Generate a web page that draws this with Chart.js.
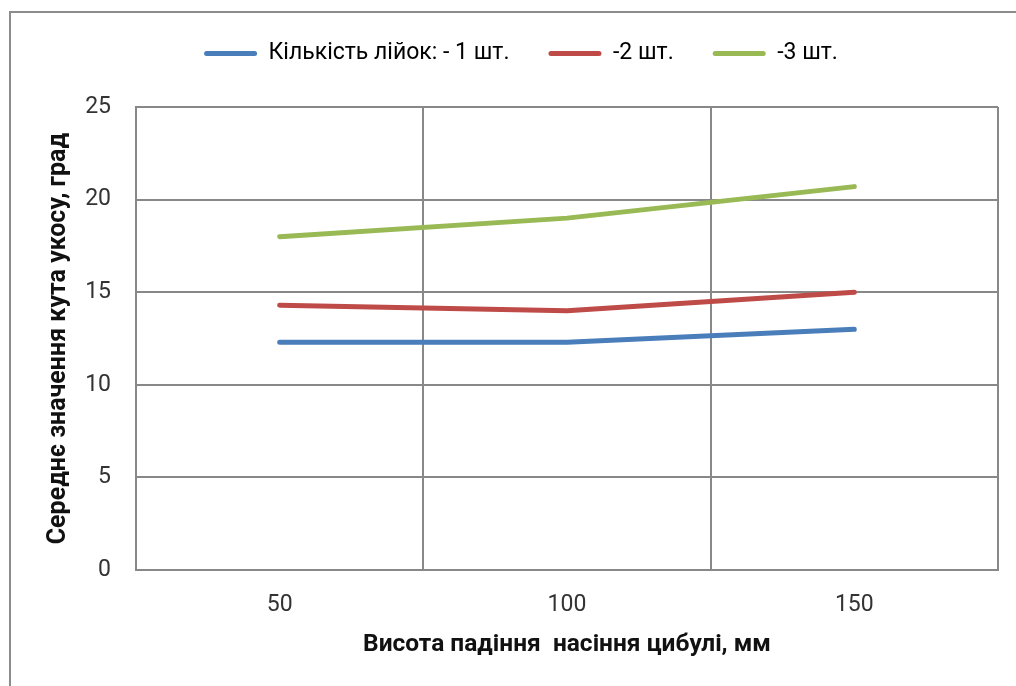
<!DOCTYPE html>
<html>
<head>
<meta charset="utf-8">
<script src="https://cdn.jsdelivr.net/npm/chart.js@4/dist/chart.umd.min.js"></script>
<style>
  html, body { margin: 0; padding: 0; background: #fff; }
  #wrap { width: 1016px; height: 686px; }
</style>
</head>
<body>
<div id="wrap"><canvas id="chart" width="1016" height="686"></canvas></div>
<script>
// Drop height of onion seed, mm
const heights = ['50', '100', '150'];
// Mean skew angle, degrees, for 1, 2 and 3 funnels
const oneFunnel = [12.3, 12.3, 13.0];
const twoFunnels = [14.3, 14.0, 15.0];
const threeFunnels = [18.0, 19.0, 20.7];
const seriesNames = ['Кількість лійок: - 1 шт.', '-2 шт.', '-3 шт.'];
const seriesColors = ['#4a7ebb', '#be4b48', '#98b954'];
const yMin = 0, yMax = 25, yStep = 5;

const FONT = 'Roboto, "Liberation Sans", sans-serif';
const GRID = '#888888';

// Outer frame of the chart object
const framePlugin = {
  id: 'frame',
  beforeDraw(chart) {
    const ctx = chart.ctx;
    ctx.save();
    ctx.fillStyle = '#ffffff';
    ctx.fillRect(0, 0, chart.width, chart.height);
    ctx.strokeStyle = '#8c8c8c';
    ctx.lineWidth = 2;
    ctx.strokeRect(10, 12, 1200, 900);
    ctx.restore();
  }
};

// Reserve extra room under the legend row so the plot starts lower
const legendSpacePlugin = {
  id: 'legendSpace',
  afterInit(chart) {
    const legend = chart.legend;
    if (!legend) return;
    const fit = legend.fit.bind(legend);
    legend.fit = function () {
      fit();
      this.height = 104;
    };
  }
};

const series = [oneFunnel, twoFunnels, threeFunnels];

new Chart(document.getElementById('chart'), {
  type: 'line',
  data: {
    labels: heights,
    datasets: series.map((values, i) => ({
      label: seriesNames[i],
      data: values,
      borderColor: seriesColors[i],
      backgroundColor: seriesColors[i],
      borderWidth: 5,
      borderCapStyle: 'round',
      borderJoinStyle: 'round',
      pointRadius: 0,
      tension: 0,
      fill: false
    }))
  },
  options: {
    responsive: false,
    animation: false,
    layout: { padding: { top: 3, left: 44, right: 18, bottom: 0 } },
    plugins: {
      tooltip: { enabled: false },
      legend: {
        position: 'top',
        align: 'center',
        labels: {
          font: { family: FONT, size: 23 },
          color: '#262626',
          boxWidth: 53,
          boxHeight: 5,
          padding: 39,
          useBorderRadius: true,
          borderRadius: 2.5,
          generateLabels(chart) {
            return chart.data.datasets.map((ds, i) => ({
              text: ds.label,
              fillStyle: ds.borderColor,
              strokeStyle: ds.borderColor,
              lineWidth: 0,
              hidden: false,
              datasetIndex: i,
              borderRadius: 2.5
            }));
          }
        }
      }
    },
    scales: {
      x: {
        offset: true,
        grid: { display: true, offset: true, color: GRID, lineWidth: 2, drawTicks: false },
        border: { display: true, color: GRID, width: 2 },
        ticks: { font: { family: FONT, size: 23 }, color: '#333333', padding: 21 },
        title: {
          display: true,
          text: 'Висота падіння  насіння цибулі, мм',
          font: { family: FONT, size: 24.5, weight: 'bold' },
          color: '#111111',
          padding: { top: 0, bottom: 26 }
        },
        afterFit(scale) { scale.height = 116; }
      },
      y: {
        min: yMin,
        max: yMax,
        grid: { color: GRID, lineWidth: 2, drawTicks: false },
        border: { display: true, color: GRID, width: 2 },
        ticks: { stepSize: yStep, font: { family: FONT, size: 23 }, color: '#333333', padding: 25 },
        title: {
          display: true,
          text: 'Середнє значення кута укосу, град',
          font: { family: FONT, size: 25, weight: 'bold' },
          color: '#111111',
          padding: { top: 0, bottom: 0 }
        },
        afterFit(scale) { scale.width = 92; }
      }
    }
  },
  plugins: [framePlugin, legendSpacePlugin]
});
</script>
</body>
</html>
